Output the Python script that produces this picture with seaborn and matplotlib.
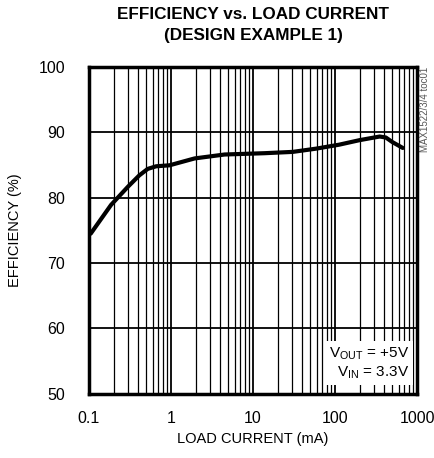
import numpy as np
import pandas as pd
import matplotlib.pyplot as plt
import seaborn as sns

# efficiency curve
load_ma = [0.105, 0.186, 0.30, 0.41, 0.52, 0.66, 0.96, 1.94, 4.5, 13.8,
           30.5, 59, 112, 200, 350, 416, 500, 670]
eff_pct = [74.5, 78.9, 81.7, 83.4, 84.4, 84.8, 84.95, 86.0, 86.6, 86.8,
           87.0, 87.5, 88.1, 88.8, 89.35, 89.2, 88.5, 87.6]

x_ticks = [0.1, 1, 10, 100, 1000]
x_labels = ['0.1', '1', '10', '100', '1000']
y_ticks = [50, 60, 70, 80, 90, 100]

sns.set_style('white')
plt.rcParams['font.family'] = ['Liberation Sans', 'DejaVu Sans']
plt.rcParams['mathtext.fontset'] = 'custom'
plt.rcParams['mathtext.rm'] = 'Liberation Sans'
plt.rcParams['text.color'] = 'black'
plt.rcParams['axes.labelcolor'] = 'black'
plt.rcParams['xtick.color'] = 'black'
plt.rcParams['ytick.color'] = 'black'

df = pd.DataFrame({'load': load_ma, 'eff': eff_pct})

fig = plt.figure(figsize=(4.34, 4.58), dpi=100)
ax = fig.add_axes([0.205, 0.140, 0.756, 0.714])

sns.lineplot(data=df, x='load', y='eff', ax=ax, color='black', linewidth=3, zorder=5)

ax.set_xscale('log')
ax.set_xlim(0.1, 1000)
ax.set_ylim(50, 100)
ax.set_xticks(x_ticks)
ax.set_xticklabels(x_labels)
ax.set_yticks(y_ticks)
ax.set_yticklabels([str(v) for v in y_ticks])
ax.tick_params(axis='both', length=0, labelsize=11.5)
ax.tick_params(axis='y', pad=17)
ax.tick_params(axis='x', pad=12)

# log grid: decade lines and minor lines
ax.grid(True, which='major', color='black', linewidth=1.3)
ax.grid(True, which='minor', axis='x', color='black', linewidth=0.9)
ax.set_axisbelow(True)
for s in ax.spines.values():
    s.set_linewidth(2.5)
    s.set_color('black')

ax.set_xlabel('LOAD CURRENT (mA)', fontsize=10.5, labelpad=5)
ax.set_ylabel('EFFICIENCY (%)', fontsize=10.5, labelpad=12)

fig.text(0.583, 0.985, 'EFFICIENCY vs. LOAD CURRENT\n(DESIGN EXAMPLE 1)',
         ha='center', va='top', fontsize=12.3, fontweight='bold', linespacing=1.55)

fig.text(0.980, 0.855, 'MAX1522/3/4 toc01', rotation=90, ha='center', va='top',
         fontsize=7, color='#555555')

ax.text(0.975, 0.04, 'V$_{\\rm OUT}$ = +5V\nV$_{\\rm IN}$ = 3.3V', transform=ax.transAxes,
        ha='right', va='bottom', fontsize=11, zorder=6, linespacing=1.15,
        bbox=dict(facecolor='white', edgecolor='none', pad=3))

fig.savefig('out.png', dpi=100)
